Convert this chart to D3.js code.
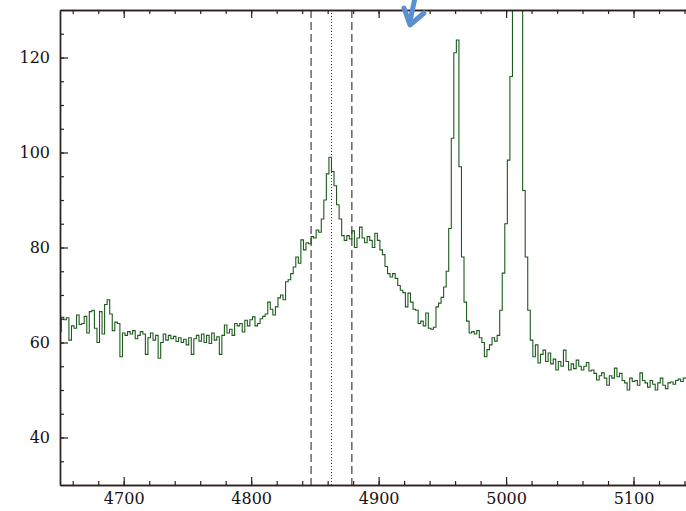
<!DOCTYPE html>
<html>
<head>
<meta charset="utf-8">
<script src="https://cdn.jsdelivr.net/npm/d3@7"></script>
<style>
  html, body { margin: 0; padding: 0; background: #ffffff; overflow: hidden; }
  svg { display: block; }
</style>
</head>
<body>
<svg id="chart" width="686" height="511"></svg>
<script>
// ---- data ----
const lambdaStart = 4650;   // Å, centre of first bin
const lambdaStep = 2;       // Å per bin
const flux = [
  62.3, 65.3, 64.8, 65.2, 60.5, 63.5, 63.0, 65.8, 63.8, 64.0,
  65.5, 62.0, 66.5, 66.8, 63.0, 60.0, 66.5, 61.8, 68.0, 69.0,
  66.0, 62.5, 64.3, 64.0, 57.0, 62.0, 61.5, 62.3, 61.8, 62.5,
  60.8, 61.5, 62.3, 61.8, 57.5, 61.0, 62.0, 60.5, 61.5, 56.7,
  60.0, 61.8, 60.5, 61.5, 60.8, 61.3, 60.2, 61.0, 60.0, 60.7,
  59.5, 61.0, 57.5, 60.8, 61.5, 60.3, 61.8, 60.0, 61.5, 59.8,
  62.0, 60.5, 61.2, 57.5, 61.5, 63.7, 62.0, 62.8, 61.5, 64.0,
  63.5, 64.0, 62.2, 64.7, 63.5, 64.8, 65.4, 63.5, 64.0, 65.0,
  65.5, 66.0, 68.5, 67.0, 65.8, 67.5, 69.4, 70.0, 69.0, 72.8,
  73.2, 74.5, 75.9, 78.0, 76.7, 81.6, 79.5, 81.0, 80.8, 82.3,
  82.0, 83.7, 83.2, 86.0, 90.0, 95.5, 99.0, 96.0, 93.0, 89.0,
  86.0, 82.5, 81.5, 82.5, 81.8, 83.5, 80.0, 82.0, 84.3, 82.0,
  81.0, 82.3, 81.5, 80.0, 83.0, 81.5, 79.5, 78.5, 76.0, 74.5,
  73.8, 74.5, 73.5, 72.0, 71.0, 70.5, 67.5, 70.4, 68.5, 67.0,
  66.8, 64.0, 64.5, 63.5, 66.2, 63.0, 62.8, 63.2, 67.5, 68.3,
  69.5, 71.7, 75.0, 84.0, 103.0, 121.0, 123.7, 97.0, 78.0, 68.5,
  64.5, 62.0, 62.3, 61.8, 62.5, 61.0, 60.0, 57.0, 58.5, 59.5,
  61.0, 60.3, 61.5, 66.8, 74.6, 85.0, 98.4, 116.0, 180.0, 240.0,
  190.0, 140.0, 92.0, 78.0, 66.8, 60.5, 57.0, 59.5, 55.7, 57.5,
  58.4, 56.0, 57.8, 55.5, 56.5, 54.2, 56.0, 55.0, 58.4, 56.0,
  54.2, 55.5, 54.5, 56.3, 55.0, 54.2, 55.0, 55.8, 54.0, 54.2,
  53.5, 52.1, 53.0, 53.6, 52.5, 51.0, 53.0, 52.5, 54.6, 52.8,
  53.5, 52.0, 51.5, 50.0, 52.5, 51.8, 52.0, 51.0, 53.6, 52.0,
  51.5, 50.6, 52.0, 51.2, 50.0, 51.5, 52.5, 51.0, 50.3, 51.5,
  51.7, 51.2, 52.0, 52.3, 51.8, 52.5, 52.5
];
const xMajorTicks = [4700, 4800, 4900, 5000, 5100];
const yMajorTicks = [40, 60, 80, 100, 120];
const dashedMarkers = [4847, 4879];
const dottedMarkers = [4863];
const xDomain = [4650, 5150];
const yDomain = [30, 130];

// ---- layout ----
const svg = d3.select("#chart");
const plotLeft = 60, plotTop = 10, plotBottom = 485;
const pxPerA = 1.2745;
const x = d3.scaleLinear().domain(xDomain).range([plotLeft, plotLeft + (xDomain[1] - xDomain[0]) * pxPerA]);
const y = d3.scaleLinear().domain(yDomain).range([plotBottom, plotTop]);

const axisColor = "#2e1f1f";
const fontFamily = "'DejaVu Serif', serif";

const points = flux.map((v, i) => ({ w: lambdaStart + lambdaStep * i, f: v }));

svg.append("defs").append("clipPath").attr("id", "plotClip")
  .append("rect").attr("x", plotLeft).attr("y", plotTop).attr("width", 800).attr("height", plotBottom - plotTop);

// vertical marker lines
const markG = svg.append("g");
markG.selectAll("line.dash").data(dashedMarkers).join("line")
  .attr("class", "dash")
  .attr("x1", d => x(d)).attr("x2", d => x(d))
  .attr("y1", plotTop).attr("y2", plotBottom)
  .attr("stroke", "#3a2c2c").attr("stroke-width", 1.1)
  .attr("stroke-dasharray", "8,4");
markG.selectAll("line.dot").data(dottedMarkers).join("line")
  .attr("class", "dot")
  .attr("x1", d => x(d)).attr("x2", d => x(d))
  .attr("y1", plotTop).attr("y2", plotBottom)
  .attr("stroke", "#3a2c2c").attr("stroke-width", 1)
  .attr("stroke-dasharray", "1,2");

// spectrum
const line = d3.line().x(d => x(d.w)).y(d => y(d.f)).curve(d3.curveStep);
svg.append("path").datum(points)
  .attr("clip-path", "url(#plotClip)")
  .attr("d", line)
  .attr("fill", "none")
  .attr("stroke", "#1d5a1d")
  .attr("stroke-width", 1.1);

// axes
const xMinor = d3.range(4660, 5150, 20);
const yMinor = d3.range(35, 130, 5);

function styleAxis(g) {
  g.selectAll("path.domain").attr("stroke", axisColor).attr("stroke-width", 1.4);
  g.selectAll(".tick line").attr("stroke", axisColor).attr("stroke-width", 1.2);
  g.selectAll(".tick text").attr("fill", "#1a1010").style("font-family", fontFamily).style("font-size", "16px");
}

// bottom
svg.append("g").attr("transform", `translate(0,${plotBottom})`)
  .call(d3.axisBottom(x).tickValues(xMinor).tickSize(-4).tickSizeOuter(0).tickFormat(""))
  .call(styleAxis);
svg.append("g").attr("transform", `translate(0,${plotBottom})`)
  .call(d3.axisBottom(x).tickValues(xMajorTicks).tickSize(-8).tickSizeOuter(0).tickPadding(8).tickFormat(d3.format("d")))
  .call(styleAxis);
// top
svg.append("g").attr("transform", `translate(0,${plotTop})`)
  .call(d3.axisTop(x).tickValues(xMinor).tickSize(-4).tickSizeOuter(0).tickFormat(""))
  .call(styleAxis);
svg.append("g").attr("transform", `translate(0,${plotTop})`)
  .call(d3.axisTop(x).tickValues(xMajorTicks).tickSize(-8).tickSizeOuter(0).tickFormat(""))
  .call(styleAxis);
// left
svg.append("g").attr("transform", `translate(${plotLeft},0)`)
  .call(d3.axisLeft(y).tickValues(yMinor).tickSize(-4).tickSizeOuter(0).tickFormat(""))
  .call(styleAxis);
svg.append("g").attr("transform", `translate(${plotLeft},0)`)
  .call(d3.axisLeft(y).tickValues(yMajorTicks).tickSize(-8).tickSizeOuter(0).tickPadding(10).tickFormat(d3.format("d")))
  .call(styleAxis);

// blue cursor arrow at the top
const arrow = svg.append("g").attr("fill", "none").attr("stroke", "#5b8fcf")
  .attr("stroke-width", 5).attr("stroke-linecap", "round").attr("stroke-linejoin", "round");
arrow.append("path").attr("d", "M415,-2 L410,21");
arrow.append("path").attr("d", "M404,8 L410,25 L424,13");
</script>
</body>
</html>
